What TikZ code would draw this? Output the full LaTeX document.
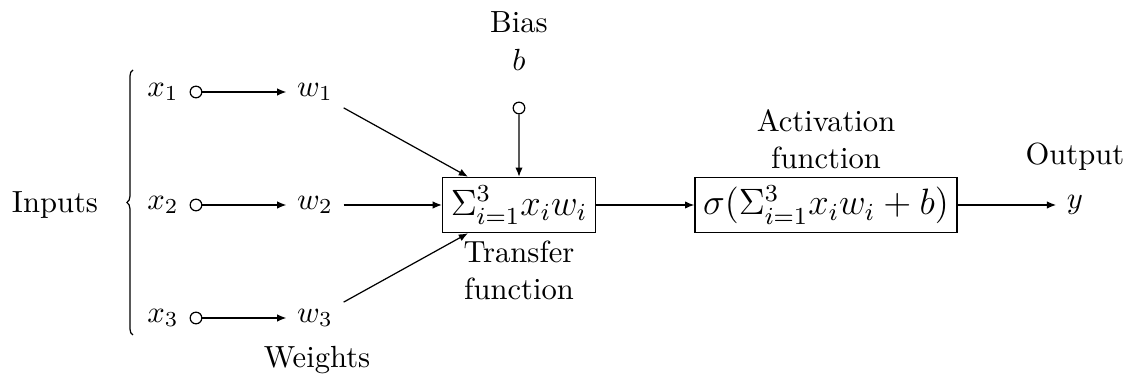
\documentclass[tikz,border=0pt]{standalone}
\usetikzlibrary{arrows.meta,decorations.pathreplacing,positioning}
\begin{document}
\begin{tikzpicture}[scale=0.1149, >={Latex[length=3pt,width=2.4pt]},
  dot/.style={circle, draw, inner sep=0pt, minimum size=3.8pt},
  box/.style={draw, font=\large, inner xsep=2.7pt, inner ysep=2.8pt}]
 \useasboundingbox (0,0) rectangle (113.5,38.1);
 % inputs
 \node (in) at (5.5,17.6) {Inputs};
 \draw[decorate, decoration={brace, amplitude=2pt}] (13.3,4.6) -- (13.3,31.1);
 \node (x1) at (16.3,28.9) {$x_1$};
 \node[dot] (c1) at (19.6,28.9) {};
 \node (w1) at (31.5,28.9) {$w_1$};
 \node (x2) at (16.3,17.6) {$x_2$};
 \node[dot] (c2) at (19.6,17.6) {};
 \node (w2) at (31.5,17.6) {$w_2$};
 \node (x3) at (16.3,6.3) {$x_3$};
 \node[dot] (c3) at (19.6,6.3) {};
 \node (w3) at (31.5,6.3) {$w_3$};
 \node (wt) at (31.7,2.1) {Weights};
 \draw[->] (c1) -- (w1);
 \draw[->] (c2) -- (w2);
 \draw[->] (c3) -- (w3);
 % transfer
 \node[box] (sum) at (51.9,17.6) {$\Sigma_{i=1}^3 x_i w_i$};
 \node[align=center, below=-1pt of sum] (tf) {Transfer\\function};
 \draw[->] (w1) -- (sum);
 \draw[->] (w2) -- (sum);
 \draw[->] (w3) -- (sum);
 % bias
 \node[dot] (bc) at (51.9,27.3) {};
 \node (b) at (51.9,32.1) {$b$};
 \node (bias) at (51.9,35.9) {Bias};
 \draw[->] (bc) -- (sum);
 % activation and output
 \node[box] (act) at (82.6,17.6) {$\sigma(\Sigma_{i=1}^3 x_i w_i + b)$};
 \node[align=center, above=-1pt of act] (af) {Activation\\function};
 \node (y) at (107.5,17.6) {$y$};
 \node (out) at (107.5,22.4) {Output};
 \draw[->] (sum) -- (act);
 \draw[->] (act) -- (y);
\end{tikzpicture}
\end{document}
